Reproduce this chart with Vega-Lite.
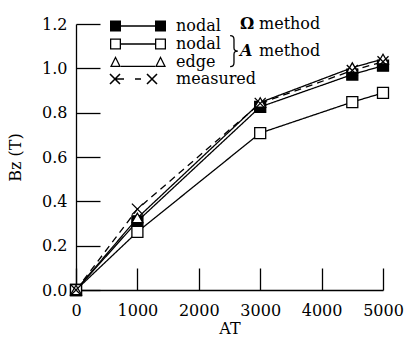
{
  "$schema": "https://vega.github.io/schema/vega-lite/v6.json",
  "width": 307,
  "height": 266,
  "autosize": "none",
  "padding": {"left": 76, "top": 24, "right": 22, "bottom": 49},
  "background": "white",
  "config": {
    "view": {"stroke": null},
    "font": "DejaVu Serif",
    "axis": {
      "domainColor": "black",
      "domainWidth": 1.3,
      "tickColor": "black",
      "tickWidth": 1.3,
      "grid": false,
      "labelFont": "DejaVu Serif",
      "labelFontSize": 16,
      "labelColor": "black",
      "labelFlush": false,
      "labelOverlap": false,
      "titleFont": "DejaVu Serif",
      "titleFontSize": 16,
      "titleFontWeight": "normal",
      "titleColor": "black"
    },
    "legend": {
      "orient": "none",
      "legendX": 53,
      "legendY": -7,
      "title": null,
      "symbolSize": 256,
      "rowPadding": 0,
      "labelOffset": 29,
      "labelFont": "DejaVu Serif",
      "labelFontSize": 16,
      "labelColor": "black"
    }
  },
  "resolve": {"scale": {"shape": "independent", "fill": "independent"}},
  "data": {
    "values": [
      {"AT": 0, "Bz": 0, "series": "nodal Ω"},
      {"AT": 1000, "Bz": 0.31, "series": "nodal Ω"},
      {"AT": 3000, "Bz": 0.826, "series": "nodal Ω"},
      {"AT": 4500, "Bz": 0.972, "series": "nodal Ω"},
      {"AT": 5000, "Bz": 1.012, "series": "nodal Ω"},
      {"AT": 0, "Bz": 0, "series": "nodal A"},
      {"AT": 1000, "Bz": 0.262, "series": "nodal A"},
      {"AT": 3000, "Bz": 0.708, "series": "nodal A"},
      {"AT": 4500, "Bz": 0.848, "series": "nodal A"},
      {"AT": 5000, "Bz": 0.889, "series": "nodal A"},
      {"AT": 0, "Bz": 0, "series": "edge A"},
      {"AT": 1000, "Bz": 0.325, "series": "edge A"},
      {"AT": 3000, "Bz": 0.846, "series": "edge A"},
      {"AT": 4500, "Bz": 1.003, "series": "edge A"},
      {"AT": 5000, "Bz": 1.042, "series": "edge A"},
      {"AT": 0, "Bz": 0, "series": "measured"},
      {"AT": 1000, "Bz": 0.365, "series": "measured"},
      {"AT": 3000, "Bz": 0.842, "series": "measured"},
      {"AT": 4500, "Bz": 0.99, "series": "measured"},
      {"AT": 5000, "Bz": 1.03, "series": "measured"}
    ]
  },
  "layer": [
    {
      "mark": {"type": "line", "stroke": "black", "strokeWidth": 1.3},
      "encoding": {
        "x": {
          "field": "AT", "type": "quantitative",
          "scale": {"domain": [0, 5000], "nice": false},
          "axis": {"title": "AT", "values": [0, 1000, 2000, 3000, 4000, 5000], "tickSize": -22, "labelPadding": 34, "titlePadding": 2, "format": "d"}
        },
        "y": {
          "field": "Bz", "type": "quantitative",
          "scale": {"domain": [0, 1.2], "nice": false},
          "axis": {"title": "Bz (T)", "values": [0, 0.2, 0.4, 0.6, 0.8, 1.0, 1.2], "tickSize": -24, "labelPadding": 33, "titlePadding": 18, "format": ".1f"}
        },
        "detail": {"field": "series"},
        "strokeDash": {
          "field": "series", "type": "nominal",
          "scale": {"domain": ["nodal Ω", "nodal A", "edge A", "measured"], "range": [[1, 0], [1, 0], [1, 0], [7, 5]]},
          "legend": null
        }
      }
    },
    {
      "mark": {"type": "point", "filled": true, "stroke": "black", "strokeWidth": 1.3, "size": 121, "opacity": 1},
      "encoding": {
        "x": {"field": "AT", "type": "quantitative"},
        "y": {"field": "Bz", "type": "quantitative"},
        "fill": {
          "field": "series", "type": "nominal",
          "scale": {"domain": ["nodal Ω", "nodal A", "edge A", "measured"], "range": ["black", "white", "white", "transparent"]},
          "legend": null
        },
        "shape": {
          "field": "series", "type": "nominal",
          "scale": {"domain": ["nodal Ω", "nodal A", "edge A", "measured"], "range": ["square", "square", "triangle-up", "M-1,-1L1,1M-1,1L1,-1"]},
          "legend": null
        }
      }
    },
    {
      "data": {"values": []},
      "mark": {"type": "point", "filled": true, "color": "black", "opacity": 1},
      "encoding": {
        "shape": {
          "field": "series", "type": "nominal",
          "scale": {
            "domain": ["nodal Ω", "nodal A", "edge A", "measured"],
            "range": [
              "M-3.5,-0.69H-2.125V0.69H-3.5Z M2.125,-0.69H3.5V0.69H2.125Z M-2.125,-0.08H2.125V0.08H-2.125Z",
              "M-3.5,-0.69H-2.125V0.69H-3.5Z M-3.34,-0.53V0.53H-2.285V-0.53Z M2.125,-0.69H3.5V0.69H2.125Z M2.285,-0.53V0.53H3.34V-0.53Z M-2.285,-0.08H2.285V0.08H-2.285Z",
              "M-2.8125,-0.75L-2.125,0.625H-3.5Z M-2.8125,-0.392L-3.2425,0.465H-2.3825Z M2.8125,-0.75L3.5,0.625H2.125Z M2.8125,-0.392L2.3825,0.465H3.2425Z M-2.125,0.465H2.125V0.625H-2.125Z",
              "M-3.43,-0.695L-2.18,0.555L-2.32,0.695L-3.57,-0.555Z M-3.57,0.555L-2.32,-0.695L-2.18,-0.555L-3.43,0.695Z M-2.875,-0.08H-1.75V0.08H-2.875Z M-0.375,-0.08H0.375V0.08H-0.375Z M1.195,-0.695L2.445,0.555L2.305,0.695L1.055,-0.555Z M1.055,0.555L2.305,-0.695L2.445,-0.555L1.195,0.695Z"
            ]
          },
          "legend": {"labelExpr": "split(datum.label, ' ')[0]"}
        }
      }
    },
    {
      "data": {"values": [{}]},
      "mark": {"type": "text", "text": "Ω", "align": "left", "baseline": "middle", "fontSize": 16, "fontWeight": "bold", "font": "DejaVu Serif", "color": "black"},
      "encoding": {"x": {"datum": 2671}, "y": {"datum": 1.2}}
    },
    {
      "data": {"values": [{}]},
      "mark": {"type": "text", "text": "method", "align": "left", "baseline": "middle", "dx": 19, "fontSize": 16, "font": "DejaVu Serif", "color": "black"},
      "encoding": {"x": {"datum": 2671}, "y": {"datum": 1.2}}
    },
    {
      "data": {"values": [{}]},
      "mark": {"type": "text", "text": "A", "align": "left", "baseline": "middle", "fontSize": 16, "fontWeight": "bold", "fontStyle": "italic", "font": "DejaVu Serif", "color": "black"},
      "encoding": {"x": {"datum": 2671}, "y": {"datum": 1.078}}
    },
    {
      "data": {"values": [{}]},
      "mark": {"type": "text", "text": "method", "align": "left", "baseline": "middle", "dx": 19, "fontSize": 16, "font": "DejaVu Serif", "color": "black"},
      "encoding": {"x": {"datum": 2671}, "y": {"datum": 1.078}}
    },
    {
      "data": {"values": [{}]},
      "mark": {"type": "point", "shape": "M-0.25,-1Q0,-1 0,-0.75L0,-0.2Q0,0 0.25,0Q0,0 0,0.2L0,0.75Q0,1 -0.25,1", "size": 961, "filled": false, "stroke": "black", "strokeWidth": 1.3, "opacity": 1},
      "encoding": {"x": {"datum": 2573}, "y": {"datum": 1.078}}
    }
  ]
}
